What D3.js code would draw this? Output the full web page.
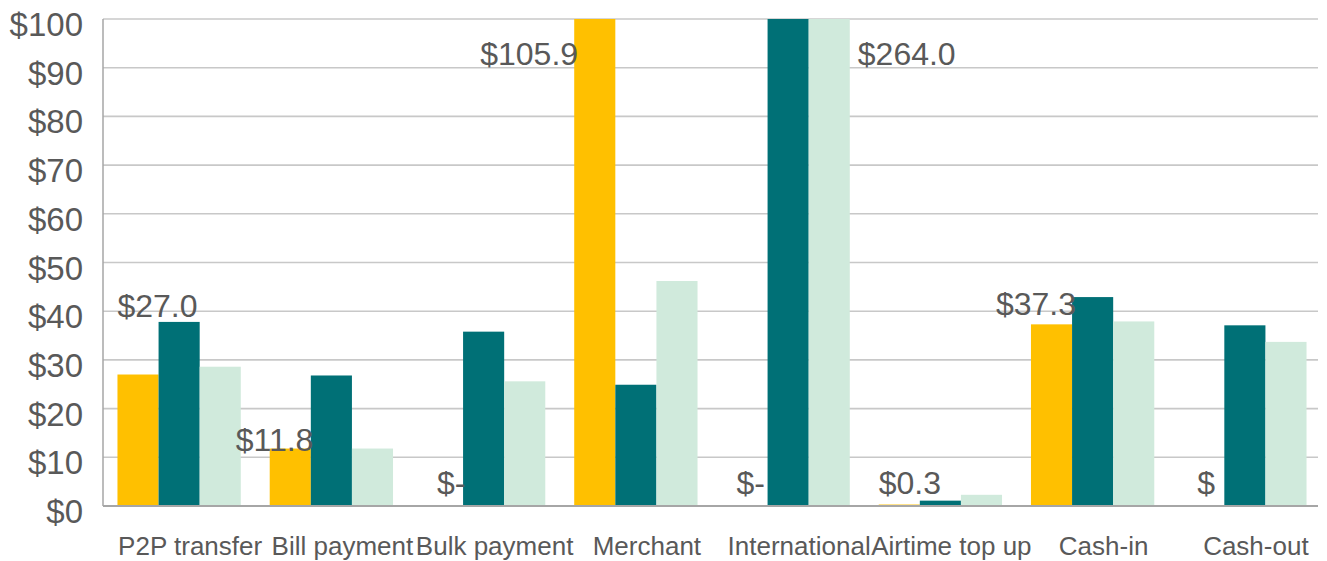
<!DOCTYPE html>
<html><head><meta charset="utf-8">
<script src="https://cdn.jsdelivr.net/npm/d3@7"></script>
<style>html,body{margin:0;padding:0;background:#fff;}svg{display:block;}</style>
</head><body>
<svg id="c" width="1327" height="561"></svg>
<script>
const categories = ["P2P transfer","Bill payment","Bulk payment","Merchant","International","Airtime top up","Cash-in","Cash-out"];
const seriesA = [27.0, 11.8, 0, 105.9, 0, 0.3, 37.3, 0];
const seriesB = [37.8, 26.8, 35.8, 24.9, 150, 1.1, 42.9, 37.1];
const seriesC = [28.6, 11.8, 25.6, 46.2, 264.0, 2.3, 37.9, 33.7];
const labelsA = ["$27.0","$11.8","$-","$105.9","$-","$0.3","$37.3","$"];
const extraLabel = {category:"International", series:"C", text:"$264.0"};
const yTicks = [0,10,20,30,40,50,60,70,80,90,100];
const tickLabels = ["$0","$10","$20","$30","$40","$50","$60","$70","$80","$90","$100"];

// manual label nudges (dx from bar left, dy from clamped bar top), as placed in the reference
const labelNudge = [[0,-58],[-34,2],[15,-12],[-94,46],[10,-12],[0,-11],[-35,-9],[14,-12]];

const series = [
  {key:"A", values:seriesA, color:"#FFC000"},
  {key:"B", values:seriesB, color:"#007076"},
  {key:"C", values:seriesC, color:"#D0EADC"}
];

(function(){
const svg = d3.select("#c");
const pL = 103, pR = 1321, pT = 19, pB = 506;
const x0 = d3.scaleBand().domain(categories).range([pL,pR]).paddingInner(0.19).paddingOuter(0.095);
const x1 = d3.scaleBand().domain(series.map(s=>s.key)).range([0,x0.bandwidth()]);
const y = d3.scaleLinear().domain([0,100]).range([pB,pT]);
const textColor = "#595959";
const font = "'Liberation Sans', Arial, sans-serif";

svg.append("defs").append("clipPath").attr("id","clip")
  .append("rect").attr("x",pL).attr("y",pT).attr("width",pR-pL).attr("height",pB-pT);

// gridlines
svg.append("g").selectAll("line").data(yTicks.filter(t=>t>0)).join("line")
  .attr("x1",pL).attr("x2",pR-3)
  .attr("y1",d=>y(d)).attr("y2",d=>y(d))
  .attr("stroke","#c8c8c8").attr("stroke-width",1.6);

// bars
const bars = svg.append("g").attr("clip-path","url(#clip)");
series.forEach(s=>{
  bars.append("g").selectAll("rect").data(categories).join("rect")
    .attr("x",(c)=>x0(c)+x1(s.key))
    .attr("width",x1.bandwidth())
    .attr("y",(c,i)=>y(Math.min(s.values[i],100)))
    .attr("height",(c,i)=>pB-y(Math.min(s.values[i],100)))
    .attr("fill",s.color);
});

// axes lines
svg.append("line").attr("x1",pL).attr("x2",pL).attr("y1",pT).attr("y2",pB)
  .attr("stroke","#a6a6a6").attr("stroke-width",1.5);
svg.append("line").attr("x1",pL).attr("x2",pR-3).attr("y1",pB).attr("y2",pB)
  .attr("stroke","#a6a6a6").attr("stroke-width",2);

// y tick labels
const yAxis = d3.axisLeft(y).tickValues(yTicks).tickSize(0).tickPadding(0)
  .tickFormat((d,i)=>tickLabels[i]);
const gy = svg.append("g").attr("transform",`translate(${pL-20},0)`).call(yAxis);
gy.select(".domain").remove();
gy.selectAll("text").attr("font-family",font).attr("font-size",33).attr("fill",textColor)
  .attr("dy","0.32em").attr("transform","translate(0,6)");

// x category labels
const xAxis = d3.axisBottom(x0).tickSize(0).tickPadding(0);
const gx = svg.append("g").attr("transform",`translate(11,${pB})`).call(xAxis);
gx.select(".domain").remove();
gx.selectAll("text").attr("font-family",font).attr("font-size",26).attr("fill",textColor)
  .attr("y",49).attr("dy",0);

// data labels for series A
svg.append("g").selectAll("text").data(categories).join("text")
  .attr("x",(c,i)=>x0(c)+x1("A")+labelNudge[i][0])
  .attr("y",(c,i)=>y(Math.min(seriesA[i],100))+labelNudge[i][1])
  .attr("font-family",font).attr("font-size",32).attr("fill",textColor)
  .text((c,i)=>labelsA[i]);

// extra label for clipped International bar
const ei = categories.indexOf(extraLabel.category);
svg.append("text")
  .attr("x",x0(extraLabel.category)+x1(extraLabel.series)+x1.bandwidth()+8)
  .attr("y",y(Math.min(seriesC[ei],100))+46)
  .attr("font-family",font).attr("font-size",32).attr("fill",textColor)
  .text(extraLabel.text);
})();
</script>
</body></html>
